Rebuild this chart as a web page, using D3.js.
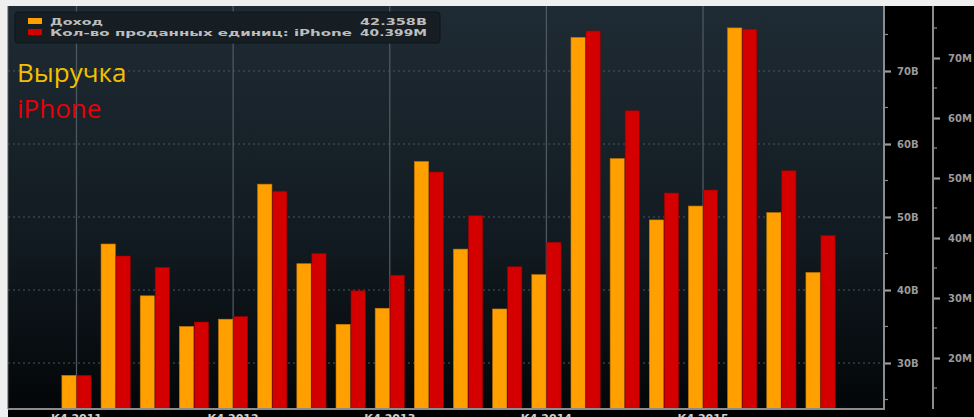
<!DOCTYPE html>
<html><head><meta charset="utf-8">
<script src="https://cdn.jsdelivr.net/npm/d3@7"></script>
<style>html,body{margin:0;padding:0;background:#efefef;}svg{display:block;}</style>
</head><body>
<svg id="c" width="974" height="417"></svg>
<script>
const quarters = ["К4 2011","К1 2012","К2 2012","К3 2012","К4 2012","К1 2013","К2 2013","К3 2013","К4 2013","К1 2014","К2 2014","К3 2014","К4 2014","К1 2015","К2 2015","К3 2015","К4 2015","К1 2016","К2 2016","К3 2016"];
const revenue = [28.3,46.3,39.2,35.0,36.0,54.5,43.6,35.3,37.5,57.6,45.6,37.4,42.1,74.6,58.0,49.6,51.5,75.9,50.6,42.4];
const iphone  = [17.1,37.0,35.1,26.0,26.9,47.8,37.4,31.2,33.8,51.0,43.7,35.2,39.3,74.5,61.2,47.5,48.0,74.8,51.2,40.4];
const revTicks = [30,40,50,60,70];
const iphTicks = [20,30,40,50,60,70];
const xLabels = ["К4 2011","К4 2012","К4 2013","К4 2014","К4 2015"];
const legendNames = ["Доход","Кол-во проданных единиц: iPhone"];
const legendValues = ["42.358B","40.399M"];

const svg = d3.select("#c");
const L=8, T=6, R=884, B=409, R2=933;

const defs = svg.append("defs");
const g = defs.append("linearGradient").attr("id","bg").attr("x1",0).attr("y1",0).attr("x2",0).attr("y2",1);
g.append("stop").attr("offset","0%").attr("stop-color","#1f2b34");
g.append("stop").attr("offset","60%").attr("stop-color","#111a20");
g.append("stop").attr("offset","100%").attr("stop-color","#030608");
defs.append("clipPath").attr("id","pc").append("rect").attr("x",L).attr("y",T).attr("width",R-L).attr("height",B-T);

svg.append("rect").attr("x",L).attr("y",T).attr("width",974-L).attr("height",417-T).attr("fill","#000");
svg.append("rect").attr("x",L).attr("y",T).attr("width",R-L).attr("height",B-T).attr("fill","url(#bg)");

const x = d3.scaleBand().domain(quarters).range([56.9, 56.9+20*39.16]).padding(0);
const xs = d3.scaleBand().domain(["rev","iph"]).range([5,34.2]).paddingInner(0.05);
const yRev = d3.scaleLinear().domain([30,70]).range([363,71]);
const yIph = d3.scaleLinear().domain([20,70]).range([358,58]);

const plot = svg.append("g").attr("clip-path","url(#pc)");
plot.selectAll("line.hg").data(revTicks).join("line")
  .attr("x1",L).attr("x2",R).attr("y1",d=>yRev(d)).attr("y2",d=>yRev(d))
  .attr("stroke","#4a5660").attr("stroke-width",1.2).attr("stroke-dasharray","2,3");
plot.selectAll("line.vg").data(xLabels).join("line")
  .attr("x1",d=>x(d)+x.bandwidth()/2).attr("x2",d=>x(d)+x.bandwidth()/2)
  .attr("y1",T).attr("y2",B).attr("stroke","#4d5860").attr("stroke-width",1.3);

const grp = plot.selectAll("g.q").data(quarters).join("g").attr("transform",d=>`translate(${x(d)},0)`);
grp.append("rect").attr("x",xs("rev")).attr("width",xs.bandwidth())
  .attr("y",(d,i)=>yRev(revenue[i])).attr("height",(d,i)=>B-yRev(revenue[i]))
  .attr("fill","#ffa000").attr("stroke","#c77800").attr("stroke-width",0.6);
grp.append("rect").attr("x",xs("iph")).attr("width",xs.bandwidth())
  .attr("y",(d,i)=>yIph(iphone[i])).attr("height",(d,i)=>B-yIph(iphone[i]))
  .attr("fill","#d40000").attr("stroke","#9a0000").attr("stroke-width",0.6);

svg.append("line").attr("x1",L).attr("x2",R+1).attr("y1",B).attr("y2",B).attr("stroke","#8c8c8c").attr("stroke-width",2);
svg.append("line").attr("x1",L).attr("x2",L).attr("y1",T).attr("y2",B).attr("stroke","#555").attr("stroke-width",1);

const axR = d3.axisRight(yRev).tickValues(revTicks).tickFormat(d=>d+"B").tickSize(7).tickPadding(6);
const aR = svg.append("g").attr("transform",`translate(${R},0)`).call(axR);
const axR2 = d3.axisRight(yIph).tickValues(iphTicks).tickFormat(d=>d+"M").tickSize(7).tickPadding(8);
const aR2 = svg.append("g").attr("transform",`translate(${R2},0)`).call(axR2);
const minorRev = d3.range(25,80,10);
const minorIph = d3.range(15,80,10);
svg.selectAll("line.mr").data(minorRev).join("line").attr("x1",R).attr("x2",R+4)
  .attr("y1",d=>yRev(d)).attr("y2",d=>yRev(d)).attr("stroke","#8c8c8c").attr("stroke-width",1.2);
svg.selectAll("line.mi").data(minorIph).join("line").attr("x1",R2).attr("x2",R2+4)
  .attr("y1",d=>yIph(d)).attr("y2",d=>yIph(d)).attr("stroke","#8c8c8c").attr("stroke-width",1.2);
[aR,aR2].forEach(a=>{
  a.select(".domain").remove();
  a.selectAll(".tick line").attr("stroke","#9a9a9a").attr("stroke-width",2.2);
  a.selectAll(".tick text").attr("fill","#9a9a9a").attr("font-family","DejaVu Sans").attr("font-size",10).attr("font-weight","bold");
});
svg.append("line").attr("x1",R).attr("x2",R).attr("y1",T).attr("y2",B+1).attr("stroke","#8c8c8c").attr("stroke-width",2);
svg.append("line").attr("x1",R2).attr("x2",R2).attr("y1",T).attr("y2",B).attr("stroke","#8c8c8c").attr("stroke-width",2);

svg.selectAll("text.xl").data(xLabels).join("text")
  .attr("x",d=>x(d)+x.bandwidth()/2).attr("y",422).attr("text-anchor","middle")
  .attr("fill","#cfcfcf").attr("font-family","DejaVu Sans").attr("font-size",11).attr("font-weight","bold")
  .text(d=>d);

svg.append("rect").attr("x",15).attr("y",12).attr("width",425).attr("height",31).attr("rx",3)
  .attr("fill","#161e23").attr("stroke","#0e1418");
const legColors = ["#ffa000","#d40000"];
legendNames.forEach((n,i)=>{
  const yy = 18 + i*11;
  svg.append("rect").attr("x",28).attr("y",yy).attr("width",14).attr("height",6).attr("fill",legColors[i]);
  svg.append("text").attr("x",50).attr("y",yy+7).attr("fill","#bdbdbd")
    .attr("font-family","DejaVu Sans").attr("font-size",9).attr("font-weight","bold")
    .attr("textLength", i===0?53:302).attr("lengthAdjust","spacingAndGlyphs").text(n);
  svg.append("text").attr("x",427).attr("y",yy+7).attr("text-anchor","end").attr("fill","#bdbdbd")
    .attr("font-family","DejaVu Sans").attr("font-size",9).attr("font-weight","bold")
    .attr("textLength",67).attr("lengthAdjust","spacingAndGlyphs").text(legendValues[i]);
});

svg.append("text").attr("x",17).attr("y",82).attr("fill","#f2c000").attr("font-family","Open Sans")
  .attr("font-size",26).text("Выручка");
svg.append("text").attr("x",17).attr("y",118).attr("fill","#e80008").attr("font-family","Open Sans")
  .attr("font-size",26).text("iPhone");
</script>
</body></html>
